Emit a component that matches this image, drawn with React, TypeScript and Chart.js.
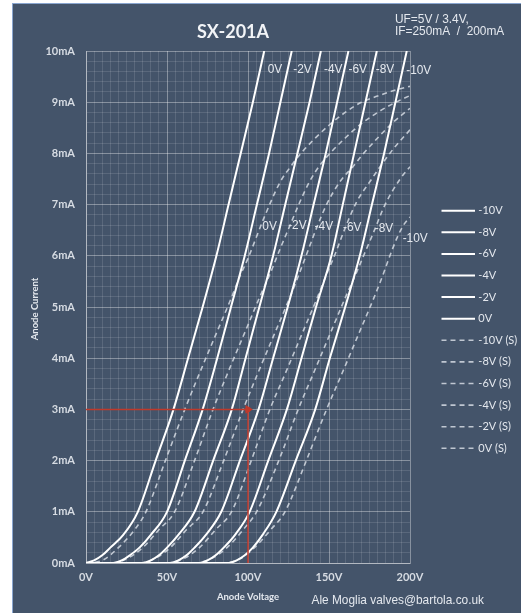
import React, { useEffect, useRef } from "react";
import { Chart, registerables } from "chart.js";

Chart.register(...registerables);

// ---- data (anode voltage V, anode current mA) ----
const solid0V = [[0,0],[5,0.05],[10,0.15],[15,0.3],[23,0.55],[32,1],[43,2],[54,3],[63,4],[72,5],[80.5,6],[88,7],[95.5,8],[103,9],[110,10]];
const solidM2V = [[0,0],[17,0],[22,0.05],[27,0.15],[33,0.3],[40,0.55],[50,1],[61,2],[72,3],[81,4],[89.5,5],[98,6],[105.5,7],[113,8],[120,9],[127,10]];
const solidM4V = [[0,0],[35,0],[40,0.05],[45,0.15],[50,0.3],[57,0.55],[67,1],[78.5,2],[90,3],[98.5,4],[107,5],[115.5,6],[123,7],[130.5,8],[138,9],[145,10]];
const solidM6V = [[0,0],[52,0],[57,0.05],[62,0.15],[67,0.3],[74,0.55],[83.5,1],[95,2],[106.5,3],[115.5,4],[124.5,5],[133,6],[140.5,7],[148,8],[155,9],[162,10]];
const solidM8V = [[0,0],[70,0],[75,0.05],[80,0.15],[85,0.3],[92,0.55],[101,1],[112.5,2],[124,3],[133,4],[142,5],[151.5,6],[158.5,7],[165.5,8],[172.5,9],[179.5,10]];
const solidM10V = [[0,0],[88,0],[93,0.05],[98,0.15],[103,0.3],[109,0.55],[117.5,1],[129.5,2],[141.5,3],[150.5,4],[160,5],[169,6],[176.5,7],[184,8],[191,9],[198,10]];

const dash0V = [[0,0],[10,0.05],[20,0.3],[30,0.65],[37,1],[49,2],[61,3],[70,3.7],[80,4.45],[90,5.2],[95,5.6],[100,5.95],[110,6.75],[120,7.45],[127,7.77],[130,7.9],[140,8.25],[150,8.55],[160,8.8],[170,9.0],[180,9.12],[190,9.23],[200,9.31]];
const dashM2V = [[0,0],[15,0],[25,0.08],[35,0.3],[45,0.65],[54.7,1],[67,2],[78.4,3],[88,3.75],[98,4.5],[108,5.25],[113,5.6],[120,6.15],[126,6.6],[132,7.05],[138,7.45],[144.4,7.77],[150,7.98],[160,8.3],[170,8.58],[180,8.8],[190,8.98],[200,9.13]];
const dashM4V = [[0,0],[32,0],[42,0.08],[52,0.3],[62,0.65],[72.2,1],[85,2],[97,3],[106,3.7],[116,4.45],[126,5.2],[131,5.6],[137,6.1],[142.4,6.55],[148.5,7.0],[156.8,7.45],[165,7.75],[170,7.95],[180,8.3],[190,8.62],[200,8.88]];
const dashM6V = [[0,0],[50,0],[60,0.08],[70,0.3],[80,0.65],[89.8,1],[102,2],[113.5,3],[123,3.7],[133,4.45],[143,5.2],[148,5.6],[154,6.05],[158.8,6.45],[167,7.05],[175.3,7.45],[181.5,7.74],[190,8.1],[200,8.46]];
const dashM8V = [[0,0],[67,0],[77,0.08],[87,0.3],[97,0.65],[105.3,1],[119,2],[131,3],[141,3.75],[151,4.5],[161,5.25],[166,5.6],[172,6.05],[177.4,6.45],[184.6,7.0],[193.9,7.5],[200,7.74]];
const dashM10V = [[0,0],[85,0],[95,0.08],[104,0.3],[114,0.65],[122.8,1],[136,2],[148.5,3],[158,3.7],[168,4.45],[178,5.2],[183,5.6],[187,5.95],[192,6.35],[196,6.6],[200,6.76]];

const redMarker = [[0,3],[100,3]];
const redDrop = [[100,3],[100,0]];

const biasNames = ["0V", "-2V", "-4V", "-6V", "-8V", "-10V"];
const solidSeries = [solid0V, solidM2V, solidM4V, solidM6V, solidM8V, solidM10V];
const dashSeries = [dash0V, dashM2V, dashM4V, dashM6V, dashM8V, dashM10V];

// curve labels (value coordinates)
const topLabelX = [116.6, 133.6, 152.6, 167.7, 184.6, 205.4];
const topLabelY = [9.65, 9.65, 9.65, 9.65, 9.65, 9.63];
const midLabelX = [113.3, 130.5, 146.8, 164.3, 183.9, 203.2];
const midLabelY = [6.57, 6.6, 6.57, 6.56, 6.54, 6.34];

const legendOrder = ["-10V", "-8V", "-6V", "-4V", "-2V", "0V", "-10V (S)", "-8V (S)", "-6V (S)", "-4V (S)", "-2V (S)", "0V (S)"];

const TITLE = "SX-201A";
const NOTE1 = "UF=5V / 3.4V,";
const NOTE2 = "IF=250mA  /  200mA";
const X_TITLE = "Anode Voltage";
const Y_TITLE = "Anode Current";
const CREDIT = "Ale Moglia valves@bartola.co.uk";

const BG = "#44546a";
const MAJOR = "rgba(255,255,255,0.36)";
const MINOR = "rgba(255,255,255,0.12)";
const TXT = "#e4e8ee";
const TICK = "#d6dbe2";
const RED = "#c0392b";
const DASH_COL = "rgba(214,220,228,0.85)";
const SANS = "'Liberation Sans', Arial, sans-serif";

const toXY = (arr: number[][]) => arr.map(([x, y]) => ({ x, y }));
const near = (v: number, step: number) => Math.abs(v / step - Math.round(v / step)) < 1e-6;

function narrowText(ctx: CanvasRenderingContext2D, text: string, x: number, y: number, size: number, align: CanvasTextAlign) {
  ctx.save();
  ctx.font = `${size}px ${SANS}`;
  ctx.textAlign = align;
  ctx.textBaseline = "middle";
  ctx.translate(x, y);
  ctx.scale(0.88, 1);
  ctx.fillText(text, 0, 0);
  ctx.restore();
}

const textPlugin = {
  id: "texts",
  afterDraw(chart: any) {
    const ctx = chart.ctx as CanvasRenderingContext2D;
    const xs = chart.scales.x;
    const ys = chart.scales.y;
    ctx.save();
    // title
    ctx.fillStyle = "#f2f4f7";
    ctx.font = "bold 18px Lato";
    ctx.textAlign = "center";
    ctx.textBaseline = "middle";
    ctx.fillText(TITLE, 220, 28.5);
    // note
    ctx.fillStyle = TXT;
    narrowText(ctx, NOTE1, 382, 15.5, 13.5, "left");
    narrowText(ctx, NOTE2, 382, 27.5, 13.5, "left");
    // curve labels
    for (let i = 0; i < biasNames.length; i++) {
      narrowText(ctx, biasNames[i], xs.getPixelForValue(topLabelX[i]), ys.getPixelForValue(topLabelY[i]), 13.5, "center");
      narrowText(ctx, biasNames[i], xs.getPixelForValue(midLabelX[i]), ys.getPixelForValue(midLabelY[i]), 13.5, "center");
    }
    // axis titles
    ctx.font = "bold 9.5px Lato";
    ctx.textAlign = "center";
    ctx.textBaseline = "middle";
    ctx.fillText(X_TITLE, 235, 593);
    ctx.save();
    ctx.translate(21.5, 305);
    ctx.rotate(-Math.PI / 2);
    ctx.fillText(Y_TITLE, 0, 0);
    ctx.restore();
    // credit
    narrowText(ctx, CREDIT, 298.5, 596, 13.5, "left");
    // legend
    ctx.font = "11px Lato";
    ctx.textAlign = "left";
    ctx.textBaseline = "middle";
    legendOrder.forEach((name, i) => {
      const ds = chart.data.datasets.find((d: any) => d.label === name);
      if (!ds) return;
      const y = 206.7 + i * 21.6;
      ctx.save();
      ctx.strokeStyle = ds.borderColor;
      ctx.lineWidth = ds.borderWidth;
      ctx.setLineDash(ds.borderDash || []);
      ctx.beginPath();
      ctx.moveTo(428.5, y);
      ctx.lineTo(462, y);
      ctx.stroke();
      ctx.restore();
      ctx.fillStyle = TXT;
      ctx.fillText(name, 465.3, y);
    });
    ctx.restore();
  },
};

export default function App() {
  const ref = useRef<HTMLCanvasElement | null>(null);

  useEffect(() => {
    if (!ref.current) return;
    const datasets: any[] = [];
    datasets.push({
      label: "marker",
      data: toXY(redMarker),
      borderColor: RED,
      borderWidth: 1.5,
      pointRadius: [0, 3.5],
      pointStyle: "triangle",
      rotation: 90,
      pointBackgroundColor: RED,
      pointBorderColor: RED,
    });
    datasets.push({
      label: "drop",
      data: toXY(redDrop),
      borderColor: RED,
      borderWidth: 1.5,
      pointRadius: [2, 0],
      pointBackgroundColor: RED,
      pointBorderColor: RED,
    });
    solidSeries.forEach((s, i) => {
      datasets.push({
        label: biasNames[i],
        data: toXY(s),
        borderColor: "#ffffff",
        borderWidth: 2,
        pointRadius: 0,
        cubicInterpolationMode: "monotone",
      });
    });
    dashSeries.forEach((s, i) => {
      datasets.push({
        label: biasNames[i] + " (S)",
        data: toXY(s),
        borderColor: DASH_COL,
        borderWidth: 1.6,
        borderDash: [5, 4],
        pointRadius: 0,
        cubicInterpolationMode: "monotone",
      });
    });

    const chart = new Chart(ref.current, {
      type: "line",
      data: { datasets },
      options: {
        responsive: false,
        animation: false,
        devicePixelRatio: 1,
        layout: { padding: { top: 47, right: 111, bottom: 0, left: 0 } },
        plugins: { legend: { display: false }, tooltip: { enabled: false } },
        scales: {
          x: {
            type: "linear",
            min: 0,
            max: 200,
            afterFit: (s: any) => { s.height = 50; },
            border: { display: true, color: MAJOR },
            grid: {
              drawTicks: false,
              color: (c: any) => (c.tick && near(c.tick.value, 50) ? MAJOR : MINOR),
            },
            ticks: {
              stepSize: 5,
              autoSkip: false,
              maxRotation: 0,
              padding: 8,
              color: TICK,
              font: { family: "Lato", weight: "bold", size: 11 },
              callback: (v: any) => (near(v, 50) ? Math.round(v) + "V" : ""),
            },
          },
          y: {
            type: "linear",
            min: 0,
            max: 10,
            afterFit: (s: any) => { s.width = 73; },
            border: { display: true, color: MAJOR },
            grid: {
              drawTicks: false,
              color: (c: any) => (c.tick && near(c.tick.value, 1) ? MAJOR : MINOR),
            },
            ticks: {
              stepSize: 0.2,
              autoSkip: false,
              padding: 11,
              color: TICK,
              font: { family: "Lato", weight: "bold", size: 11 },
              callback: (v: any) => (near(v, 1) ? Math.round(v) + "mA" : ""),
            },
          },
        },
      } as any,
      plugins: [textPlugin],
    });
    return () => chart.destroy();
  }, []);

  return (
    <div
      style={{
        position: "absolute",
        left: 12,
        top: 3,
        width: 508,
        height: 609,
        background: BG,
        borderTop: "1px solid #8aa6d0",
        borderLeft: "1px solid #8aa6d0",
      }}
    >
      <canvas ref={ref} width={508} height={609} style={{ display: "block" }} />
    </div>
  );
}
